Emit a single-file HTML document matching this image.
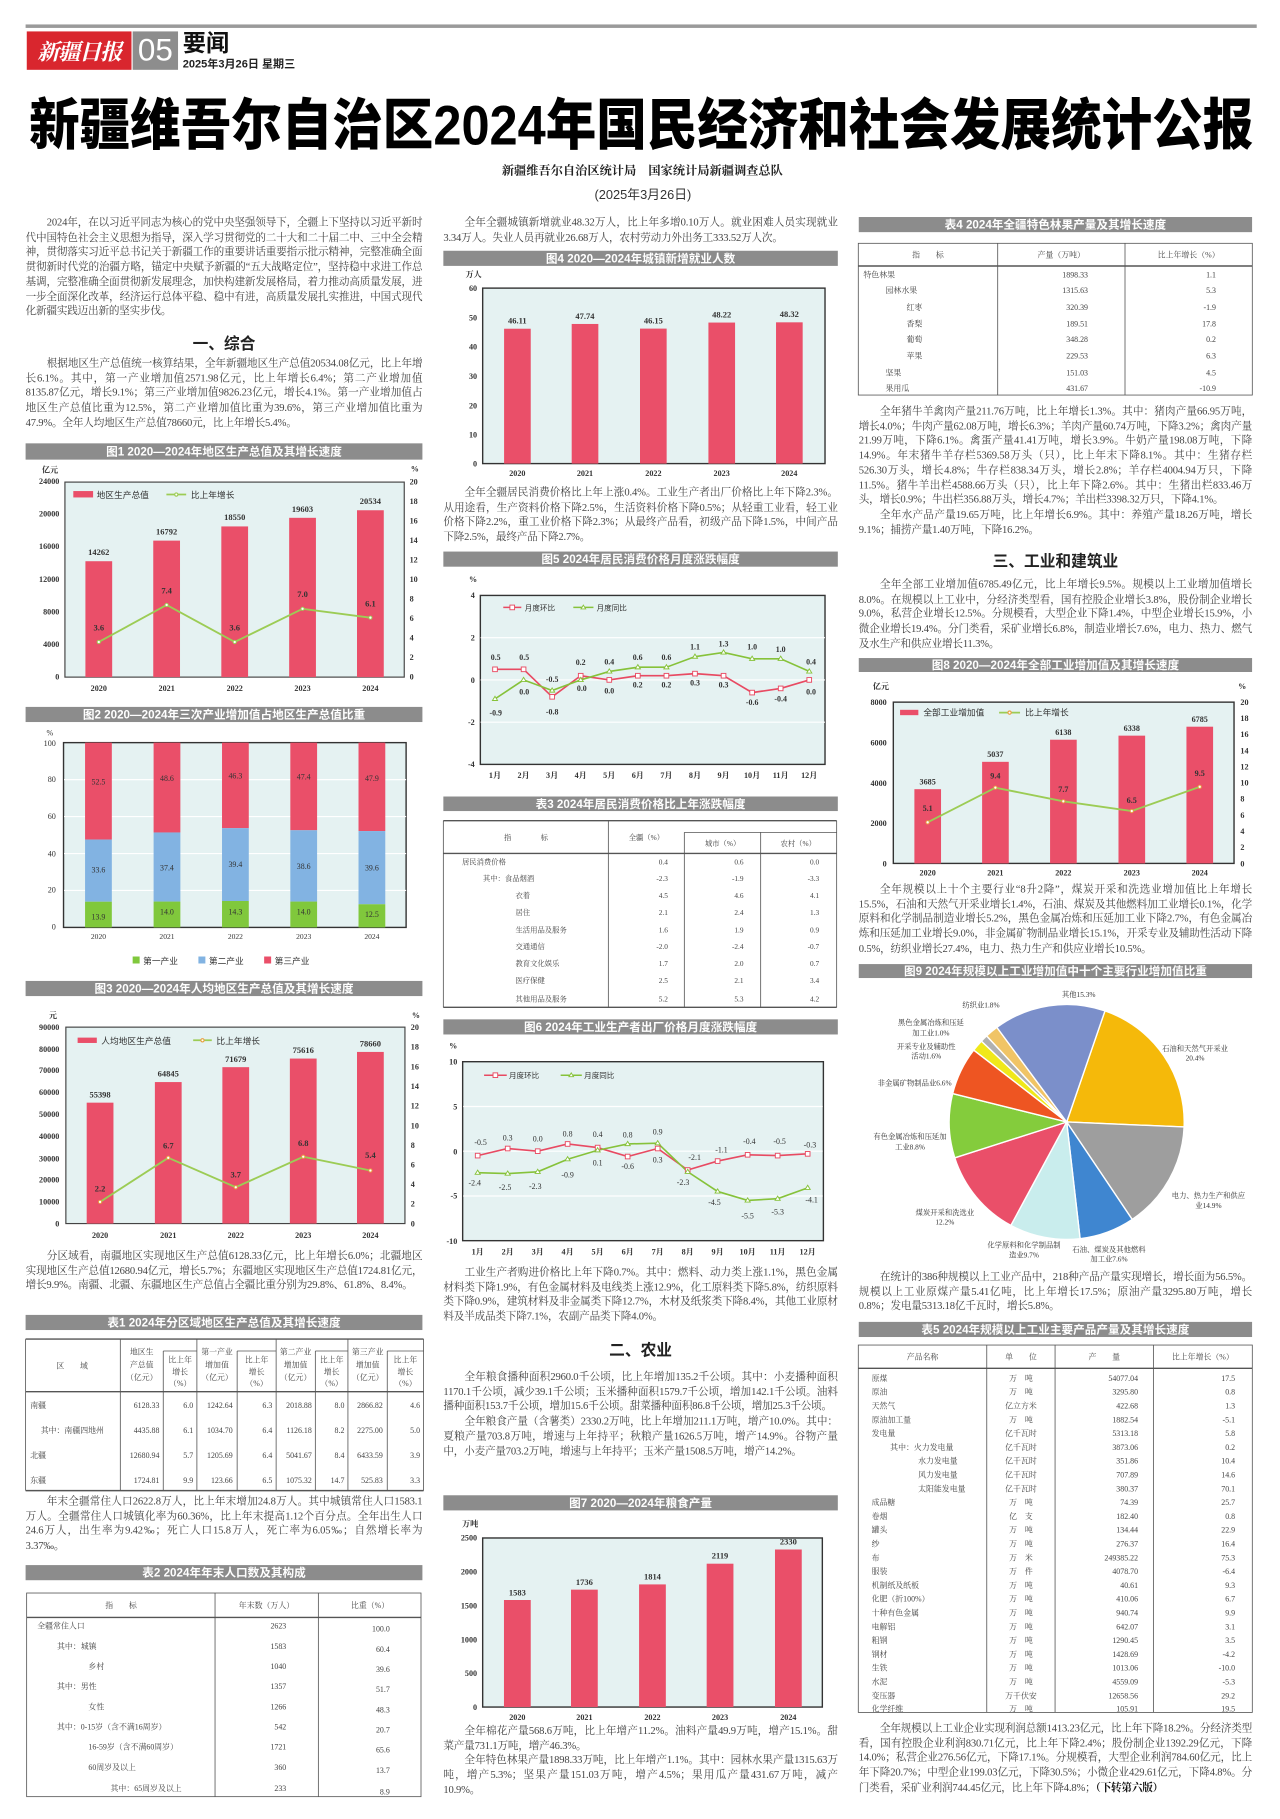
<!DOCTYPE html>
<html><head><meta charset="utf-8">
<style>
html,body{margin:0;padding:0;background:#fff;}
body{width:1280px;height:1819px;overflow:hidden;position:relative;}
#p{position:absolute;left:0;top:0;width:1100px;height:1563px;transform:scale(1.163636);transform-origin:0 0;font-family:"Liberation Sans","Noto Sans CJK SC",sans-serif;color:#3a3a3a;}
.t{position:absolute;font-size:9.1px;line-height:12.7px;letter-spacing:-0.15px;text-align:justify;overflow:hidden;font-family:"Liberation Serif","Noto Serif CJK SC","Noto Sans CJK SC",serif;color:#444;}
.t p{margin:0;text-indent:2em;}
.h{position:absolute;font-size:13.5px;font-weight:bold;text-align:center;color:#222;font-family:"Liberation Sans","Noto Sans CJK SC",sans-serif;}
svg text{font-family:"Liberation Serif","Noto Serif CJK SC","Noto Sans CJK SC",serif;}
.hd{fill:#8c8c8c;}
.ht{fill:#fff;font-size:10px;font-weight:bold;font-family:"Liberation Sans","Noto Sans CJK SC",sans-serif !important;}
.ax{font-size:7px;font-weight:bold;fill:#333;}
.v{font-size:7.3px;font-weight:bold;fill:#333;}
.lg{font-size:7.5px;fill:#333;font-family:"Liberation Sans","Noto Sans CJK SC",sans-serif !important;}
.tb{font-size:6.8px;fill:#444;font-family:"Liberation Sans","Noto Sans CJK SC",sans-serif !important;}
.pl{font-size:6.3px;fill:#333;font-family:"Liberation Serif","Noto Serif CJK SC",serif;}
</style></head><body><div id="p">

<!-- masthead -->
<div style="position:absolute;left:22px;top:21px;width:1058px;height:3px;background:#9a9a9a"></div>
<div style="position:absolute;left:23px;top:27px;width:90px;height:33px;background:#d9262e;color:#fff;font:italic bold 19px/33px 'Noto Serif CJK SC',serif;text-align:center;letter-spacing:-1px;overflow:hidden;white-space:nowrap">新疆日报</div>
<div style="position:absolute;left:114px;top:27px;width:39px;height:33px;background:#8d8d8d;color:#fff;font:27px/33px 'Liberation Sans',sans-serif;text-align:center">05</div>
<div style="position:absolute;left:157px;top:25px;font:bold 20px/22px 'Noto Sans CJK SC',sans-serif;color:#111">要闻</div>
<div style="position:absolute;left:157px;top:50px;font:bold 9.5px/11px 'Liberation Sans','Noto Sans CJK SC',sans-serif;color:#222">2025年3月26日 星期三</div>

<svg style="position:absolute;left:0;top:0" width="1100" height="140">
<text x="25" y="124" textLength="1052" lengthAdjust="spacingAndGlyphs" style="font-family:'Liberation Sans','Noto Sans CJK SC',sans-serif;font-size:48px;font-weight:900;fill:#000">新疆维吾尔自治区2024年国民经济和社会发展统计公报</text>
</svg>
<div style="position:absolute;left:400px;top:141px;width:304px;text-align:center;font:bold 10.5px/12px 'Noto Serif CJK SC',serif;color:#222">新疆维吾尔自治区统计局　国家统计局新疆调查总队</div>
<div style="position:absolute;left:480px;top:162px;width:145px;text-align:center;font:11px/12px 'Liberation Sans','Noto Sans CJK SC',sans-serif;color:#333">(2025年3月26日)</div>

<!-- column 1 text -->
<div class="t" style="left:22px;top:185px;width:341px;height:90px"><p>2024年，在以习近平同志为核心的党中央坚强领导下，全疆上下坚持以习近平新时代中国特色社会主义思想为指导，深入学习贯彻党的二十大和二十届二中、三中全会精神，贯彻落实习近平总书记关于新疆工作的重要讲话重要指示批示精神，完整准确全面贯彻新时代党的治疆方略，锚定中央赋予新疆的“五大战略定位”，坚持稳中求进工作总基调，完整准确全面贯彻新发展理念，加快构建新发展格局，着力推动高质量发展，进一步全面深化改革，经济运行总体平稳、稳中有进，高质量发展扎实推进，中国式现代化新疆实践迈出新的坚实步伐。</p></div>
<div class="h" style="left:22px;top:284px;width:341px">一、综合</div>
<div class="t" style="left:22px;top:306px;width:341px;height:77px"><p>根据地区生产总值统一核算结果，全年新疆地区生产总值20534.08亿元，比上年增长6.1%。其中，第一产业增加值2571.98亿元，比上年增长6.4%；第二产业增加值8135.87亿元，增长9.1%；第三产业增加值9826.23亿元，增长4.1%。第一产业增加值占地区生产总值比重为12.5%，第二产业增加值比重为39.6%，第三产业增加值比重为47.9%。全年人均地区生产总值78660元，比上年增长5.4%。</p></div>
<div class="t" style="left:22px;top:1073px;width:341px;height:52px"><p>分区域看，南疆地区实现地区生产总值6128.33亿元，比上年增长6.0%；北疆地区实现地区生产总值12680.94亿元，增长5.7%；东疆地区实现地区生产总值1724.81亿元，增长9.9%。南疆、北疆、东疆地区生产总值占全疆比重分别为29.8%、61.8%、8.4%。</p></div>
<div class="t" style="left:22px;top:1284px;width:341px;height:52px"><p>年末全疆常住人口2622.8万人，比上年末增加24.8万人。其中城镇常住人口1583.1万人。全疆常住人口城镇化率为60.36%，比上年末提高1.12个百分点。全年出生人口24.6万人，出生率为9.42‰；死亡人口15.8万人，死亡率为6.05‰；自然增长率为3.37‰。</p></div>

<!-- column 2 text -->
<div class="t" style="left:381px;top:185px;width:339px;height:26px"><p>全年全疆城镇新增就业48.32万人，比上年多增0.10万人。就业困难人员实现就业3.34万人。失业人员再就业26.68万人，农村劳动力外出务工333.52万人次。</p></div>
<div class="t" style="left:381px;top:417px;width:339px;height:52px"><p>全年全疆居民消费价格比上年上涨0.4%。工业生产者出厂价格比上年下降2.3%。从用途看，生产资料价格下降2.5%，生活资料价格下降0.5%；从轻重工业看，轻工业价格下降2.2%，重工业价格下降2.3%；从最终产品看，初级产品下降1.5%，中间产品下降2.5%，最终产品下降2.7%。</p></div>
<div class="t" style="left:381px;top:1087px;width:339px;height:52px"><p>工业生产者购进价格比上年下降0.7%。其中：燃料、动力类上涨1.1%，黑色金属材料类下降1.9%，有色金属材料及电线类上涨12.9%，化工原料类下降5.8%，纺织原料类下降0.9%，建筑材料及非金属类下降12.7%，木材及纸浆类下降8.4%，其他工业原材料及半成品类下降7.1%，农副产品类下降4.0%。</p></div>
<div class="h" style="left:381px;top:1149px;width:339px">二、农业</div>
<div class="t" style="left:381px;top:1177px;width:339px;height:103px"><p>全年粮食播种面积2960.0千公顷，比上年增加135.2千公顷。其中：小麦播种面积1170.1千公顷，减少39.1千公顷；玉米播种面积1579.7千公顷，增加142.1千公顷。油料播种面积153.7千公顷，增加15.6千公顷。甜菜播种面积86.8千公顷，增加25.3千公顷。</p><p>全年粮食产量（含薯类）2330.2万吨，比上年增加211.1万吨，增产10.0%。其中：夏粮产量703.8万吨，增速与上年持平；秋粮产量1626.5万吨，增产14.9%。谷物产量中，小麦产量703.2万吨，增速与上年持平；玉米产量1508.5万吨，增产14.2%。</p></div>
<div class="t" style="left:381px;top:1481px;width:339px;height:66px"><p>全年棉花产量568.6万吨，比上年增产11.2%。油料产量49.9万吨，增产15.1%。甜菜产量731.1万吨，增产46.3%。</p><p>全年特色林果产量1898.33万吨，比上年增产1.1%。其中：园林水果产量1315.63万吨，增产5.3%；坚果产量151.03万吨，增产4.5%；果用瓜产量431.67万吨，减产10.9%。</p></div>

<!-- column 3 text -->
<div class="t" style="left:738px;top:347px;width:338px;height:117px"><p>全年猪牛羊禽肉产量211.76万吨，比上年增长1.3%。其中：猪肉产量66.95万吨，增长4.0%；牛肉产量62.08万吨，增长6.3%；羊肉产量60.74万吨，下降3.2%；禽肉产量21.99万吨，下降6.1%。禽蛋产量41.41万吨，增长3.9%。牛奶产量198.08万吨，下降14.9%。年末猪牛羊存栏5369.58万头（只），比上年末下降8.1%。其中：生猪存栏526.30万头，增长4.8%；牛存栏838.34万头，增长2.8%；羊存栏4004.94万只，下降11.5%。猪牛羊出栏4588.66万头（只），比上年下降2.6%。其中：生猪出栏833.46万头，增长0.9%；牛出栏356.88万头，增长4.7%；羊出栏3398.32万只，下降4.1%。</p><p>全年水产品产量19.65万吨，比上年增长6.9%。其中：养殖产量18.26万吨，增长9.1%；捕捞产量1.40万吨，下降16.2%。</p></div>
<div class="h" style="left:738px;top:471px;width:338px">三、工业和建筑业</div>
<div class="t" style="left:738px;top:496px;width:338px;height:65px"><p>全年全部工业增加值6785.49亿元，比上年增长9.5%。规模以上工业增加值增长8.0%。在规模以上工业中，分经济类型看，国有控股企业增长3.8%，股份制企业增长9.0%，私营企业增长12.5%。分规模看，大型企业下降1.4%，中型企业增长15.9%，小微企业增长19.4%。分门类看，采矿业增长6.8%，制造业增长7.6%，电力、热力、燃气及水生产和供应业增长11.3%。</p></div>
<div class="t" style="left:738px;top:758px;width:338px;height:66px"><p>全年规模以上十个主要行业“8升2降”，煤炭开采和洗选业增加值比上年增长15.5%，石油和天然气开采业增长1.4%，石油、煤炭及其他燃料加工业增长0.1%，化学原料和化学制品制造业增长5.2%，黑色金属冶炼和压延加工业下降2.7%，有色金属冶炼和压延加工业增长9.0%，非金属矿物制品业增长15.1%，开采专业及辅助性活动下降0.5%，纺织业增长27.4%，电力、热力生产和供应业增长10.5%。</p></div>
<div class="t" style="left:738px;top:1091px;width:338px;height:39px"><p>在统计的386种规模以上工业产品中，218种产品产量实现增长，增长面为56.5%。规模以上工业原煤产量5.41亿吨，比上年增长17.5%；原油产量3295.80万吨，增长0.8%；发电量5313.18亿千瓦时，增长5.8%。</p></div>
<div class="t" style="left:738px;top:1479px;width:338px;height:70px"><p>全年规模以上工业企业实现利润总额1413.23亿元，比上年下降18.2%。分经济类型看，国有控股企业利润830.71亿元，比上年下降2.4%；股份制企业1392.29亿元，下降14.0%；私营企业276.56亿元，下降17.1%。分规模看，大型企业利润784.60亿元，比上年下降20.7%；中型企业199.03亿元，下降30.5%；小微企业429.61亿元，下降4.8%。分门类看，采矿业利润744.45亿元，比上年下降4.8%；<b style="color:#111">（下转第六版）</b></p></div>

<svg style="position:absolute;left:0;top:0" width="1100" height="1563">
<!-- headers -->
<g>
<rect class="hd" x="22" y="381" width="341" height="14"/><text class="ht" x="192.5" y="391.5" text-anchor="middle">图1  2020—2024年地区生产总值及其增长速度</text>
<rect class="hd" x="22" y="607.5" width="341" height="13"/><text class="ht" x="192.5" y="617.5" text-anchor="middle">图2  2020—2024年三次产业增加值占地区生产总值比重</text>
<rect class="hd" x="22" y="843" width="341" height="13"/><text class="ht" x="192.5" y="853" text-anchor="middle">图3  2020—2024年人均地区生产总值及其增长速度</text>
<rect class="hd" x="22" y="1130" width="341" height="13"/><text class="ht" x="192.5" y="1140" text-anchor="middle">表1  2024年分区域地区生产总值及其增长速度</text>
<rect class="hd" x="22" y="1345" width="341" height="13"/><text class="ht" x="192.5" y="1355" text-anchor="middle">表2  2024年年末人口数及其构成</text>
<rect class="hd" x="381" y="215.5" width="339" height="13"/><text class="ht" x="550.5" y="225.5" text-anchor="middle">图4  2020—2024年城镇新增就业人数</text>
<rect class="hd" x="381" y="474" width="339" height="13"/><text class="ht" x="550.5" y="484" text-anchor="middle">图5  2024年居民消费价格月度涨跌幅度</text>
<rect class="hd" x="381" y="684.5" width="339" height="12.5"/><text class="ht" x="550.5" y="694.5" text-anchor="middle">表3  2024年居民消费价格比上年涨跌幅度</text>
<rect class="hd" x="381" y="876" width="339" height="13"/><text class="ht" x="550.5" y="886" text-anchor="middle">图6  2024年工业生产者出厂价格月度涨跌幅度</text>
<rect class="hd" x="381" y="1285" width="339" height="13"/><text class="ht" x="550.5" y="1295" text-anchor="middle">图7  2020—2024年粮食产量</text>
<rect class="hd" x="738" y="186.5" width="338" height="13"/><text class="ht" x="907" y="196.5" text-anchor="middle">表4  2024年全疆特色林果产量及其增长速度</text>
<rect class="hd" x="738" y="565.5" width="338" height="12"/><text class="ht" x="907" y="575" text-anchor="middle">图8  2020—2024年全部工业增加值及其增长速度</text>
<rect class="hd" x="738" y="828.5" width="338" height="12"/><text class="ht" x="907" y="838" text-anchor="middle">图9  2024年规模以上工业增加值中十个主要行业增加值比重</text>
<rect class="hd" x="738" y="1136" width="338" height="13"/><text class="ht" x="907" y="1146" text-anchor="middle">表5  2024年规模以上工业主要产品产量及其增长速度</text>
</g>

<!-- FIG 1 -->
<g>
<rect x="55.8" y="414.3" width="291.6" height="167.6" fill="#e5f2f2" stroke="#444" stroke-width="1"/>
<text class="ax" x="36" y="406">亿元</text><text class="ax" x="353" y="405">%</text>
<g class="ax" text-anchor="end"><text x="51" y="584">0</text><text x="51" y="556">4000</text><text x="51" y="528">8000</text><text x="51" y="500">12000</text><text x="51" y="472">16000</text><text x="51" y="444">20000</text><text x="51" y="416">24000</text></g>
<g class="ax"><text x="352" y="584">0</text><text x="352" y="567.2">2</text><text x="352" y="550.5">4</text><text x="352" y="533.7">6</text><text x="352" y="517">8</text><text x="352" y="500.2">10</text><text x="352" y="483.4">12</text><text x="352" y="466.7">14</text><text x="352" y="449.9">16</text><text x="352" y="433.2">18</text><text x="352" y="416.4">20</text></g>
<g fill="#ea4f69"><rect x="73.4" y="482.3" width="23" height="99.6"/><rect x="131.7" y="464.6" width="23" height="117.3"/><rect x="190.2" y="452.4" width="23" height="129.5"/><rect x="248.5" y="445" width="23" height="136.9"/><rect x="306.8" y="438.5" width="23" height="143.4"/></g>
<g class="v" text-anchor="middle"><text x="84.9" y="477">14262</text><text x="143.2" y="459.5">16792</text><text x="201.7" y="447">18550</text><text x="260" y="440">19603</text><text x="318.3" y="433">20534</text>
<text x="84.9" y="542">3.6</text><text x="143.2" y="510">7.4</text><text x="201.7" y="542">3.6</text><text x="260" y="513">7.0</text><text x="318.3" y="521">6.1</text></g>
<polyline points="84.9,551.7 143.2,519.9 201.7,551.7 260,523.2 318.3,530.8" fill="none" stroke="#9ccc55" stroke-width="1.6"/>
<g fill="#fff" stroke="#9ccc55" stroke-width="0.8"><circle cx="84.9" cy="551.7" r="1.4"/><circle cx="143.2" cy="519.9" r="1.4"/><circle cx="201.7" cy="551.7" r="1.4"/><circle cx="260" cy="523.2" r="1.4"/><circle cx="318.3" cy="530.8" r="1.4"/></g>
<g class="ax" text-anchor="middle"><text x="84.9" y="594">2020</text><text x="143.2" y="594">2021</text><text x="201.7" y="594">2022</text><text x="260" y="594">2023</text><text x="318.3" y="594">2024</text></g>
<rect x="63" y="422" width="17" height="5.5" fill="#ea4f69"/><text class="lg" x="83" y="428">地区生产总值</text>
<line x1="143" y1="425" x2="160" y2="425" stroke="#9ccc55" stroke-width="1.5"/><circle cx="151.5" cy="425" r="1.4" fill="#fff" stroke="#9ccc55"/><text class="lg" x="164" y="428">比上年增长</text>
</g>

<!-- FIG 2 -->
<g>
<rect x="54.6" y="638.2" width="294.4" height="158.8" fill="#e5f2f2" stroke="#333" stroke-width="1.2"/>
<g stroke="#fff" stroke-width="1"><line x1="55" y1="765.2" x2="349" y2="765.2"/><line x1="55" y1="733.5" x2="349" y2="733.5"/><line x1="55" y1="701.7" x2="349" y2="701.7"/><line x1="55" y1="670" x2="349" y2="670"/></g>
<text class="ax" x="40" y="632" style="font-weight:normal">%</text>
<g class="ax" text-anchor="end" style="font-weight:normal"><text x="48" y="799">0</text><text x="48" y="767">20</text><text x="48" y="736">40</text><text x="48" y="704">60</text><text x="48" y="672">80</text><text x="48" y="641">100</text></g>
<g fill="#ea4f69"><rect x="73.1" y="638.2" width="23" height="83.3"/><rect x="132" y="638.2" width="23" height="77.2"/><rect x="190.8" y="638.2" width="23" height="73.5"/><rect x="249.5" y="638.2" width="23" height="75.3"/><rect x="308.1" y="638.2" width="23" height="76"/></g>
<g fill="#82b3e2"><rect x="73.1" y="721.5" width="23" height="53.4"/><rect x="132" y="715.4" width="23" height="59.4"/><rect x="190.8" y="711.7" width="23" height="62.6"/><rect x="249.5" y="713.5" width="23" height="61.3"/><rect x="308.1" y="714.2" width="23" height="62.9"/></g>
<g fill="#80c83c"><rect x="73.1" y="774.9" width="23" height="22.1"/><rect x="132" y="774.8" width="23" height="22.2"/><rect x="190.8" y="774.3" width="23" height="22.7"/><rect x="249.5" y="774.8" width="23" height="22.2"/><rect x="308.1" y="777.1" width="23" height="19.9"/></g>
<g class="v" text-anchor="middle" style="font-weight:normal;font-size:6.8px"><text x="84.6" y="674">52.5</text><text x="143.5" y="671">48.6</text><text x="202.3" y="669">46.3</text><text x="261" y="670">47.4</text><text x="319.6" y="671">47.9</text>
<text x="84.6" y="750">33.6</text><text x="143.5" y="748">37.4</text><text x="202.3" y="745">39.4</text><text x="261" y="747">38.6</text><text x="319.6" y="748">39.6</text>
<text x="84.6" y="790">13.9</text><text x="143.5" y="786">14.0</text><text x="202.3" y="786">14.3</text><text x="261" y="786">14.0</text><text x="319.6" y="788">12.5</text></g>
<g class="ax" text-anchor="middle" style="font-weight:normal;font-size:6.5px"><text x="84.6" y="807">2020</text><text x="143.5" y="807">2021</text><text x="202.3" y="807">2022</text><text x="261" y="807">2023</text><text x="319.6" y="807">2024</text></g>
<rect x="114" y="822" width="6" height="6" fill="#80c83c"/><text class="lg" x="123" y="828.5">第一产业</text>
<rect x="170.5" y="822" width="6" height="6" fill="#82b3e2"/><text class="lg" x="179.5" y="828.5">第二产业</text>
<rect x="227" y="822" width="6" height="6" fill="#ea4f69"/><text class="lg" x="236" y="828.5">第三产业</text>
</g>

<!-- FIG 3 -->
<g>
<rect x="56.6" y="882.7" width="291.4" height="168.8" fill="#e5f2f2" stroke="#444" stroke-width="1"/>
<text class="ax" x="42" y="875">元</text><text class="ax" x="354" y="875">%</text>
<g class="ax" text-anchor="end"><text x="51" y="1054">0</text><text x="51" y="1035">10000</text><text x="51" y="1016">20000</text><text x="51" y="998">30000</text><text x="51" y="979">40000</text><text x="51" y="960">50000</text><text x="51" y="941">60000</text><text x="51" y="922">70000</text><text x="51" y="904">80000</text><text x="51" y="885">90000</text></g>
<g class="ax"><text x="353" y="1054">0</text><text x="353" y="1037">2</text><text x="353" y="1020">4</text><text x="353" y="1003.5">6</text><text x="353" y="986.6">8</text><text x="353" y="969.7">10</text><text x="353" y="952.8">12</text><text x="353" y="936">14</text><text x="353" y="919">16</text><text x="353" y="902">18</text><text x="353" y="885">20</text></g>
<g fill="#ea4f69"><rect x="74.5" y="947.6" width="23" height="103.9"/><rect x="133.1" y="929.9" width="23" height="121.6"/><rect x="191.1" y="917.1" width="23" height="134.4"/><rect x="249.1" y="909.7" width="23" height="141.8"/><rect x="306.8" y="904" width="23" height="147.5"/></g>
<g class="v" text-anchor="middle"><text x="86" y="943">55398</text><text x="144.6" y="925">64845</text><text x="202.6" y="912.5">71679</text><text x="260.6" y="905">75616</text><text x="318.3" y="899.5">78660</text>
<text x="86" y="1024">2.2</text><text x="144.6" y="987">6.7</text><text x="202.6" y="1012">3.7</text><text x="260.6" y="985">6.8</text><text x="318.3" y="995">5.4</text></g>
<polyline points="86,1032.9 144.6,995 202.6,1020.3 260.6,994.1 318.3,1005.9" fill="none" stroke="#9ccc55" stroke-width="1.6"/>
<g fill="#fff" stroke="#e8a040" stroke-width="0.8"><circle cx="86" cy="1032.9" r="1.4"/><circle cx="144.6" cy="995" r="1.4"/><circle cx="202.6" cy="1020.3" r="1.4"/><circle cx="260.6" cy="994.1" r="1.4"/><circle cx="318.3" cy="1005.9" r="1.4"/></g>
<g class="ax" text-anchor="middle"><text x="86" y="1064">2020</text><text x="144.6" y="1064">2021</text><text x="202.6" y="1064">2022</text><text x="260.6" y="1064">2023</text><text x="318.3" y="1064">2024</text></g>
<rect x="66.7" y="891.7" width="16.5" height="4.6" fill="#ea4f69"/><text class="lg" x="87" y="897">人均地区生产总值</text>
<line x1="166" y1="894" x2="182" y2="894" stroke="#9ccc55" stroke-width="1.5"/><circle cx="174" cy="894" r="1.4" fill="#fff" stroke="#e8a040"/><text class="lg" x="186" y="897">比上年增长</text>
</g>

<!-- TABLE 1 -->
<g stroke="#555" stroke-width="0.7" fill="none">
<line x1="22" y1="1150.8" x2="364" y2="1150.8" stroke-width="1.2"/>
<line x1="22" y1="1196" x2="364" y2="1196" stroke-width="1.2"/>
<line x1="22" y1="1281" x2="364" y2="1281" stroke-width="1.2"/>
<line x1="22" y1="1150.8" x2="22" y2="1281"/><line x1="364" y1="1150.8" x2="364" y2="1281"/>
<line x1="103.4" y1="1150.8" x2="103.4" y2="1281"/><line x1="140.3" y1="1161" x2="140.3" y2="1281"/><line x1="169.2" y1="1150.8" x2="169.2" y2="1281"/><line x1="203.8" y1="1161" x2="203.8" y2="1281"/><line x1="237.3" y1="1150.8" x2="237.3" y2="1281"/><line x1="271" y1="1161" x2="271" y2="1281"/><line x1="299" y1="1150.8" x2="299" y2="1281"/><line x1="332.8" y1="1161" x2="332.8" y2="1281"/>
<line x1="140.3" y1="1161" x2="169.2" y2="1161"/><line x1="203.8" y1="1161" x2="237.3" y2="1161"/><line x1="271" y1="1161" x2="299" y2="1161"/><line x1="332.8" y1="1161" x2="364" y2="1161"/>
</g>
<g class="tb" text-anchor="middle">
<text x="62" y="1176">区　　域</text>
<text x="121.8" y="1164">地区生</text><text x="121.8" y="1175">产总值</text><text x="121.8" y="1186">（亿元）</text>
<text x="154.8" y="1171">比上年</text><text x="154.8" y="1181">增长</text><text x="154.8" y="1191">（%）</text>
<text x="186.5" y="1164">第一产业</text><text x="186.5" y="1175">增加值</text><text x="186.5" y="1186">（亿元）</text>
<text x="220.5" y="1171">比上年</text><text x="220.5" y="1181">增长</text><text x="220.5" y="1191">（%）</text>
<text x="254" y="1164">第二产业</text><text x="254" y="1175">增加值</text><text x="254" y="1186">（亿元）</text>
<text x="285" y="1171">比上年</text><text x="285" y="1181">增长</text><text x="285" y="1191">（%）</text>
<text x="316" y="1164">第三产业</text><text x="316" y="1175">增加值</text><text x="316" y="1186">（亿元）</text>
<text x="348.4" y="1171">比上年</text><text x="348.4" y="1181">增长</text><text x="348.4" y="1191">（%）</text>
</g>
<g class="tb"><text x="26" y="1210">南疆</text><text x="35" y="1231.5">其中：南疆四地州</text><text x="26" y="1253">北疆</text><text x="26" y="1274.5">东疆</text></g>
<g class="tb" text-anchor="end">
<text x="137" y="1210">6128.33</text><text x="166" y="1210">6.0</text><text x="200" y="1210">1242.64</text><text x="234" y="1210">6.3</text><text x="268" y="1210">2018.88</text><text x="296" y="1210">8.0</text><text x="329" y="1210">2866.82</text><text x="361" y="1210">4.6</text>
<text x="137" y="1231.5">4435.88</text><text x="166" y="1231.5">6.1</text><text x="200" y="1231.5">1034.70</text><text x="234" y="1231.5">6.4</text><text x="268" y="1231.5">1126.18</text><text x="296" y="1231.5">8.2</text><text x="329" y="1231.5">2275.00</text><text x="361" y="1231.5">5.0</text>
<text x="137" y="1253">12680.94</text><text x="166" y="1253">5.7</text><text x="200" y="1253">1205.69</text><text x="234" y="1253">6.4</text><text x="268" y="1253">5041.67</text><text x="296" y="1253">8.4</text><text x="329" y="1253">6433.59</text><text x="361" y="1253">3.9</text>
<text x="137" y="1274.5">1724.81</text><text x="166" y="1274.5">9.9</text><text x="200" y="1274.5">123.66</text><text x="234" y="1274.5">6.5</text><text x="268" y="1274.5">1075.32</text><text x="296" y="1274.5">14.7</text><text x="329" y="1274.5">525.83</text><text x="361" y="1274.5">3.3</text>
</g>

<!-- TABLE 2 -->
<g stroke="#555" stroke-width="0.7" fill="none">
<rect x="22.9" y="1369" width="338.9" height="175"/>
<line x1="22.9" y1="1390" x2="361.8" y2="1390" stroke-width="1.2"/>
<line x1="184.8" y1="1369" x2="184.8" y2="1544"/><line x1="273.6" y1="1369" x2="273.6" y2="1544"/>
</g>
<g class="tb" text-anchor="middle"><text x="104" y="1382">指　　标</text><text x="229" y="1382">年末数（万人）</text><text x="318" y="1382">比重（%）</text></g>
<g class="tb">
<text x="32" y="1399.5">全疆常住人口</text><text x="49" y="1417">其中：城镇</text><text x="76" y="1434.5">乡村</text><text x="49" y="1451.5">其中：男性</text><text x="76" y="1469">女性</text><text x="49" y="1486.5">其中：0-15岁（含不满16周岁）</text><text x="76" y="1503.5">16-59岁（含不满60周岁）</text><text x="76" y="1521">60周岁及以上</text><text x="95" y="1539">其中：65周岁及以上</text>
</g>
<g class="tb" text-anchor="end">
<text x="246" y="1399.5">2623</text><text x="246" y="1417">1583</text><text x="246" y="1434.5">1040</text><text x="246" y="1451.5">1357</text><text x="246" y="1469">1266</text><text x="246" y="1486.5">542</text><text x="246" y="1503.5">1721</text><text x="246" y="1521">360</text><text x="246" y="1539">233</text>
<text x="335" y="1402">100.0</text><text x="335" y="1419.5">60.4</text><text x="335" y="1437">39.6</text><text x="335" y="1454">51.7</text><text x="335" y="1471.5">48.3</text><text x="335" y="1489">20.7</text><text x="335" y="1506">65.6</text><text x="335" y="1523.5">13.7</text><text x="335" y="1542">8.9</text>
</g>

<!-- FIG 4 -->
<g>
<rect x="414.8" y="247.6" width="294.2" height="150.8" fill="#e5f2f2" stroke="#333" stroke-width="1.2"/>
<text class="ax" x="400" y="238">万人</text>
<g class="ax" text-anchor="end"><text x="410" y="401">0</text><text x="410" y="376">10</text><text x="410" y="351">20</text><text x="410" y="325.5">30</text><text x="410" y="300.4">40</text><text x="410" y="275.3">50</text><text x="410" y="250">60</text></g>
<g fill="#ea4f69"><rect x="433.2" y="282.5" width="22.9" height="115.9"/><rect x="491.3" y="278.4" width="22.9" height="120"/><rect x="550" y="282.4" width="22.9" height="116"/><rect x="608.8" y="277.2" width="22.9" height="121.2"/><rect x="666.9" y="277" width="22.9" height="121.4"/></g>
<g class="v" text-anchor="middle"><text x="444.6" y="278">46.11</text><text x="502.7" y="274">47.74</text><text x="561.5" y="278">46.15</text><text x="620.2" y="273">48.22</text><text x="678.3" y="272.5">48.32</text></g>
<g class="ax" text-anchor="middle"><text x="444.6" y="409">2020</text><text x="502.7" y="409">2021</text><text x="561.5" y="409">2022</text><text x="620.2" y="409">2023</text><text x="678.3" y="409">2024</text></g>
</g>

<!-- FIG 5 -->
<g>
<rect x="412.8" y="511.7" width="296.2" height="145.2" fill="#e5f2f2" stroke="#333" stroke-width="1.2"/>
<g stroke="#fff" stroke-width="1"><line x1="413" y1="548" x2="709" y2="548"/><line x1="413" y1="584.3" x2="709" y2="584.3"/><line x1="413" y1="620.6" x2="709" y2="620.6"/></g>
<text class="ax" x="403" y="500">%</text>
<g class="ax" text-anchor="end"><text x="408" y="514">4</text><text x="408" y="550.5">2</text><text x="408" y="587">0</text><text x="408" y="623">-2</text><text x="408" y="659">-4</text></g>
<polyline points="425.4,575.2 449.95,575.2 474.5,598.8 499.05,580.7 523.6,584.3 548.15,580.7 572.7,580.7 597.25,578.9 621.8,580.7 646.35,595.2 670.9,591.6 695.45,584.3" fill="none" stroke="#e84a62" stroke-width="1.4"/>
<polyline points="425.4,600.6 449.95,584.3 474.5,593.4 499.05,584.3 523.6,577 548.15,573.4 572.7,573.4 597.25,564.3 621.8,560.7 646.35,566.15 670.9,566.15 695.45,577" fill="none" stroke="#86c23a" stroke-width="1.4"/>
<g fill="#fff" stroke="#e84a62" stroke-width="0.8"><rect x="423.4" y="573.2" width="4" height="4"/><rect x="447.95" y="573.2" width="4" height="4"/><rect x="472.5" y="596.8" width="4" height="4"/><rect x="497.05" y="578.7" width="4" height="4"/><rect x="521.6" y="582.3" width="4" height="4"/><rect x="546.15" y="578.7" width="4" height="4"/><rect x="570.7" y="578.7" width="4" height="4"/><rect x="595.25" y="576.9" width="4" height="4"/><rect x="619.8" y="578.7" width="4" height="4"/><rect x="644.35" y="593.2" width="4" height="4"/><rect x="668.9" y="589.6" width="4" height="4"/><rect x="693.45" y="582.3" width="4" height="4"/></g>
<g fill="#fff" stroke="#86c23a" stroke-width="0.8"><path d="M425.4 598.4l2.2 3.6h-4.4z"/><path d="M449.95 582.1l2.2 3.6h-4.4z"/><path d="M474.5 591.2l2.2 3.6h-4.4z"/><path d="M499.05 582.1l2.2 3.6h-4.4z"/><path d="M523.6 574.8l2.2 3.6h-4.4z"/><path d="M548.15 571.2l2.2 3.6h-4.4z"/><path d="M572.7 571.2l2.2 3.6h-4.4z"/><path d="M597.25 562.1l2.2 3.6h-4.4z"/><path d="M621.8 558.5l2.2 3.6h-4.4z"/><path d="M646.35 563.9l2.2 3.6h-4.4z"/><path d="M670.9 563.9l2.2 3.6h-4.4z"/><path d="M695.45 574.8l2.2 3.6h-4.4z"/></g>
<g class="v" text-anchor="middle" style="font-size:6.8px">
<text x="426" y="567">0.5</text><text x="450.5" y="567">0.5</text><text x="474.5" y="586">-0.5</text><text x="499" y="571.5">0.2</text><text x="523.6" y="571">0.4</text><text x="548" y="567">0.6</text><text x="572.7" y="567">0.6</text><text x="597.3" y="558">1.1</text><text x="621.8" y="555.5">1.3</text><text x="646.4" y="558">1.0</text><text x="670.9" y="560.5">1.0</text><text x="697" y="571">0.4</text>
<text x="426" y="615">-0.9</text><text x="450.5" y="597">0.0</text><text x="474.5" y="614">-0.8</text><text x="500" y="594">0.0</text><text x="523.6" y="596">0.0</text><text x="548" y="591">0.2</text><text x="572.7" y="591">0.2</text><text x="597.3" y="589">0.3</text><text x="621.8" y="591">0.3</text><text x="646.4" y="606">-0.6</text><text x="670.9" y="603">-0.4</text><text x="697" y="597">0.0</text></g>
<g class="ax" text-anchor="middle"><text x="425.4" y="668.5">1月</text><text x="449.95" y="668.5">2月</text><text x="474.5" y="668.5">3月</text><text x="499.05" y="668.5">4月</text><text x="523.6" y="668.5">5月</text><text x="548.15" y="668.5">6月</text><text x="572.7" y="668.5">7月</text><text x="597.25" y="668.5">8月</text><text x="621.8" y="668.5">9月</text><text x="646.35" y="668.5">10月</text><text x="670.9" y="668.5">11月</text><text x="695.45" y="668.5">12月</text></g>
<line x1="432.5" y1="522" x2="448" y2="522" stroke="#e84a62" stroke-width="1.3"/><rect x="438.2" y="520" width="4" height="4" fill="#fff" stroke="#e84a62" stroke-width="0.8"/><text class="lg" x="451" y="524.5" style="font-size:6.5px">月度环比</text>
<line x1="492.7" y1="522" x2="510" y2="522" stroke="#86c23a" stroke-width="1.3"/><path d="M501.3 520l2 3.3h-4z" fill="#fff" stroke="#86c23a" stroke-width="0.8"/><text class="lg" x="512.7" y="524.5" style="font-size:6.5px">月度同比</text>
</g>

<!-- TABLE 3 -->
<g stroke="#555" stroke-width="0.7" fill="none">
<line x1="381" y1="705.3" x2="719" y2="705.3" stroke-width="1.2"/><line x1="381" y1="733.4" x2="719" y2="733.4" stroke-width="1.2"/><line x1="381" y1="865.7" x2="719" y2="865.7" stroke-width="1.2"/>
<line x1="381" y1="705.3" x2="381" y2="865.7"/><line x1="719" y1="705.3" x2="719" y2="865.7"/><line x1="522.8" y1="705.3" x2="522.8" y2="865.7"/><line x1="588.1" y1="715.3" x2="588.1" y2="865.7"/><line x1="653.7" y1="715.3" x2="653.7" y2="865.7"/><line x1="588.1" y1="715.3" x2="719" y2="715.3"/>
</g>
<g class="tb" text-anchor="middle" style="font-size:6.3px"><text x="452" y="722">指　　　　标</text><text x="555.5" y="722">全疆（%）</text><text x="621" y="727">城市（%）</text><text x="686" y="727">农村（%）</text></g>
<g class="tb" style="font-size:6.3px"><text x="397" y="743">居民消费价格</text><text x="415" y="757.3">其中：食品烟酒</text><text x="443" y="771.9">衣着</text><text x="443" y="786.5">居住</text><text x="443" y="801.2">生活用品及服务</text><text x="443" y="815.7">交通通信</text><text x="443" y="830.1">教育文化娱乐</text><text x="443" y="844.7">医疗保健</text><text x="443" y="860.5">其他用品及服务</text></g>
<g class="tb" text-anchor="end" style="font-size:6.3px">
<text x="574" y="743">0.4</text><text x="639" y="743">0.6</text><text x="704" y="743">0.0</text>
<text x="574" y="757.3">-2.3</text><text x="639" y="757.3">-1.9</text><text x="704" y="757.3">-3.3</text>
<text x="574" y="771.9">4.5</text><text x="639" y="771.9">4.6</text><text x="704" y="771.9">4.1</text>
<text x="574" y="786.5">2.1</text><text x="639" y="786.5">2.4</text><text x="704" y="786.5">1.3</text>
<text x="574" y="801.2">1.6</text><text x="639" y="801.2">1.9</text><text x="704" y="801.2">0.9</text>
<text x="574" y="815.7">-2.0</text><text x="639" y="815.7">-2.4</text><text x="704" y="815.7">-0.7</text>
<text x="574" y="830.1">1.7</text><text x="639" y="830.1">2.0</text><text x="704" y="830.1">0.7</text>
<text x="574" y="844.7">2.5</text><text x="639" y="844.7">2.1</text><text x="704" y="844.7">3.4</text>
<text x="574" y="860.5">5.2</text><text x="639" y="860.5">5.3</text><text x="704" y="860.5">4.2</text></g>

<!-- FIG 6 -->
<g>
<rect x="397.6" y="912.4" width="310" height="153.8" fill="#e5f2f2" stroke="#333" stroke-width="1.2"/>
<g stroke="#fff" stroke-width="1"><line x1="398" y1="950.9" x2="707" y2="950.9"/><line x1="398" y1="989.3" x2="707" y2="989.3"/><line x1="398" y1="1027.8" x2="707" y2="1027.8"/></g>
<text class="ax" x="386" y="901">%</text>
<g class="ax" text-anchor="end"><text x="393" y="915">10</text><text x="393" y="953.5">5</text><text x="393" y="992">0</text><text x="393" y="1030">-5</text><text x="393" y="1069">-10</text></g>
<polyline points="410.5,993.1 436.3,987 462.1,989.3 487.8,983.1 513.6,986.2 539.4,993.9 565.2,987 591,1005.5 616.7,997.8 642.5,992.4 668.3,993.1 694.1,991.6" fill="none" stroke="#e84a62" stroke-width="1.4"/>
<polyline points="410.5,1007.8 436.3,1008.5 462.1,1007 487.8,996.2 513.6,988.5 539.4,983.1 565.2,982.4 591,1007 616.7,1023.9 642.5,1031.6 668.3,1030.1 694.1,1020.8" fill="none" stroke="#86c23a" stroke-width="1.4"/>
<g fill="#fff" stroke="#e84a62" stroke-width="0.8"><rect x="408.5" y="991.1" width="4" height="4"/><rect x="434.3" y="985" width="4" height="4"/><rect x="460.1" y="987.3" width="4" height="4"/><rect x="485.8" y="981.1" width="4" height="4"/><rect x="511.6" y="984.2" width="4" height="4"/><rect x="537.4" y="991.9" width="4" height="4"/><rect x="563.2" y="985" width="4" height="4"/><rect x="589" y="1003.5" width="4" height="4"/><rect x="614.7" y="995.8" width="4" height="4"/><rect x="640.5" y="990.4" width="4" height="4"/><rect x="666.3" y="991.1" width="4" height="4"/><rect x="692.1" y="989.6" width="4" height="4"/></g>
<g fill="#fff" stroke="#86c23a" stroke-width="0.8"><path d="M410.5 1005.6l2.2 3.6h-4.4z"/><path d="M436.3 1006.3l2.2 3.6h-4.4z"/><path d="M462.1 1004.8l2.2 3.6h-4.4z"/><path d="M487.8 994l2.2 3.6h-4.4z"/><path d="M513.6 986.3l2.2 3.6h-4.4z"/><path d="M539.4 980.9l2.2 3.6h-4.4z"/><path d="M565.2 980.2l2.2 3.6h-4.4z"/><path d="M591 1004.8l2.2 3.6h-4.4z"/><path d="M616.7 1021.7l2.2 3.6h-4.4z"/><path d="M642.5 1029.4l2.2 3.6h-4.4z"/><path d="M668.3 1027.9l2.2 3.6h-4.4z"/><path d="M694.1 1018.6l2.2 3.6h-4.4z"/></g>
<g class="v" text-anchor="middle" style="font-size:6.8px;font-weight:normal">
<text x="413" y="984">-0.5</text><text x="436.3" y="980">0.3</text><text x="462.1" y="981">0.0</text><text x="487.8" y="976.5">0.8</text><text x="513.6" y="977">0.4</text><text x="539.4" y="977.5">0.8</text><text x="565.2" y="975">0.9</text><text x="597" y="997">-2.1</text><text x="620" y="990.5">-1.1</text><text x="644" y="983">-0.4</text><text x="670" y="983">-0.5</text><text x="696" y="986">-0.3</text>
<text x="513.6" y="1001.5">0.1</text><text x="539.4" y="1004.5">-0.6</text><text x="565.2" y="999">0.3</text>
<text x="408" y="1019">-2.4</text><text x="434" y="1022.5">-2.5</text><text x="460" y="1022">-2.3</text><text x="487.8" y="1012">-0.9</text><text x="587" y="1018.5">-2.3</text><text x="614" y="1035.5">-4.5</text><text x="642.5" y="1047">-5.5</text><text x="668.3" y="1043.5">-5.3</text><text x="697.5" y="1033.5">-4.1</text></g>
<g class="ax" text-anchor="middle"><text x="410.5" y="1078">1月</text><text x="436.3" y="1078">2月</text><text x="462.1" y="1078">3月</text><text x="487.8" y="1078">4月</text><text x="513.6" y="1078">5月</text><text x="539.4" y="1078">6月</text><text x="565.2" y="1078">7月</text><text x="591" y="1078">8月</text><text x="616.7" y="1078">9月</text><text x="642.5" y="1078">10月</text><text x="668.3" y="1078">11月</text><text x="694.1" y="1078">12月</text></g>
<line x1="416" y1="924" x2="435.5" y2="924" stroke="#e84a62" stroke-width="1.3"/><rect x="423.7" y="922" width="4" height="4" fill="#fff" stroke="#e84a62" stroke-width="0.8"/><text class="lg" x="437.4" y="926.5" style="font-size:6.5px">月度环比</text>
<line x1="481.8" y1="924" x2="500" y2="924" stroke="#86c23a" stroke-width="1.3"/><path d="M490.9 922l2 3.3h-4z" fill="#fff" stroke="#86c23a" stroke-width="0.8"/><text class="lg" x="502" y="926.5" style="font-size:6.5px">月度同比</text>
</g>

<!-- FIG 7 -->
<g>
<rect x="414.8" y="1321.7" width="291.9" height="145.3" fill="#e5f2f2" stroke="#333" stroke-width="1.2"/>
<text class="ax" x="397" y="1312">万吨</text>
<g class="ax" text-anchor="end"><text x="410" y="1469.5">0</text><text x="410" y="1440.5">500</text><text x="410" y="1411.5">1000</text><text x="410" y="1382.5">1500</text><text x="410" y="1353">2000</text><text x="410" y="1324">2500</text></g>
<g fill="#ea4f69"><rect x="433.1" y="1375" width="23" height="92"/><rect x="490.7" y="1366.1" width="23" height="100.9"/><rect x="549.2" y="1361.6" width="23" height="105.4"/><rect x="607.3" y="1343.8" width="23" height="123.2"/><rect x="666" y="1331.6" width="23" height="135.4"/></g>
<g class="v" text-anchor="middle"><text x="444.6" y="1371">1583</text><text x="502.2" y="1362">1736</text><text x="560.7" y="1357.5">1814</text><text x="618.8" y="1339.5">2119</text><text x="677.5" y="1327.5">2330</text></g>
<g class="ax" text-anchor="middle"><text x="444.6" y="1478">2020</text><text x="502.2" y="1478">2021</text><text x="560.7" y="1478">2022</text><text x="618.8" y="1478">2023</text><text x="677.5" y="1478">2024</text></g>
</g>

<!-- TABLE 4 -->
<g stroke="#555" stroke-width="0.7" fill="none">
<rect x="737.6" y="209.1" width="338.6" height="130.4"/>
<line x1="737.6" y1="228.6" x2="1076.2" y2="228.6" stroke-width="1.2"/>
<line x1="857.4" y1="209.1" x2="857.4" y2="339.5"/><line x1="966.8" y1="209.1" x2="966.8" y2="339.5"/>
</g>
<g class="tb" text-anchor="middle"><text x="797.5" y="221.5">指　　标</text><text x="912" y="221.5">产量（万吨）</text><text x="1021.5" y="221.5">比上年增长（%）</text></g>
<g class="tb"><text x="742" y="238.3">特色林果</text><text x="761" y="252">园林水果</text><text x="779" y="266.3">红枣</text><text x="779" y="280.4">香梨</text><text x="779" y="294.1">葡萄</text><text x="779" y="308.2">苹果</text><text x="761" y="322.5">坚果</text><text x="761" y="336.2">果用瓜</text></g>
<g class="tb" text-anchor="end">
<text x="935" y="238.3">1898.33</text><text x="935" y="252">1315.63</text><text x="935" y="266.3">320.39</text><text x="935" y="280.4">189.51</text><text x="935" y="294.1">348.28</text><text x="935" y="308.2">229.53</text><text x="935" y="322.5">151.03</text><text x="935" y="336.2">431.67</text>
<text x="1045" y="238.3">1.1</text><text x="1045" y="252">5.3</text><text x="1045" y="266.3">-1.9</text><text x="1045" y="280.4">17.8</text><text x="1045" y="294.1">0.2</text><text x="1045" y="308.2">6.3</text><text x="1045" y="322.5">4.5</text><text x="1045" y="336.2">-10.9</text></g>

<!-- FIG 8 -->
<g>
<rect x="767.7" y="603.4" width="292.8" height="138.6" fill="#e5f2f2" stroke="#333" stroke-width="1.2"/>
<text class="ax" x="750" y="592">亿元</text><text class="ax" x="1064" y="592">%</text>
<g class="ax" text-anchor="end"><text x="762" y="744.5">0</text><text x="762" y="710">2000</text><text x="762" y="675.3">4000</text><text x="762" y="640.6">6000</text><text x="762" y="606">8000</text></g>
<g class="ax"><text x="1066" y="744.5">0</text><text x="1066" y="730.6">2</text><text x="1066" y="716.8">4</text><text x="1066" y="702.9">6</text><text x="1066" y="689">8</text><text x="1066" y="675.2">10</text><text x="1066" y="661.3">12</text><text x="1066" y="647.4">14</text><text x="1066" y="633.5">16</text><text x="1066" y="619.7">18</text><text x="1066" y="605.8">20</text></g>
<g fill="#ea4f69"><rect x="785.8" y="678.2" width="22.9" height="63.8"/><rect x="844" y="654.7" width="22.9" height="87.3"/><rect x="902.4" y="635.7" width="22.9" height="106.3"/><rect x="961.2" y="632.2" width="22.9" height="109.8"/><rect x="1019.6" y="624.5" width="22.9" height="117.5"/></g>
<g class="v" text-anchor="middle" style="font-size:7px"><text x="797.2" y="674">3685</text><text x="855.4" y="650.5">5037</text><text x="913.8" y="631.5">6138</text><text x="972.6" y="628">6338</text><text x="1031" y="620.5">6785</text>
<text x="797.2" y="697">5.1</text><text x="855.4" y="669">9.4</text><text x="913.8" y="680.5">7.7</text><text x="972.6" y="690">6.5</text><text x="1031" y="667">9.5</text></g>
<polyline points="797.2,706.7 855.4,676.9 913.8,688.6 972.6,697 1031,676.2" fill="none" stroke="#9ccc55" stroke-width="1.6"/>
<g fill="#fff" stroke="#e8a040" stroke-width="0.8"><circle cx="797.2" cy="706.7" r="1.4"/><circle cx="855.4" cy="676.9" r="1.4"/><circle cx="913.8" cy="688.6" r="1.4"/><circle cx="972.6" cy="697" r="1.4"/><circle cx="1031" cy="676.2" r="1.4"/></g>
<g class="ax" text-anchor="middle"><text x="797.2" y="752.5">2020</text><text x="855.4" y="752.5">2021</text><text x="913.8" y="752.5">2022</text><text x="972.6" y="752.5">2023</text><text x="1031" y="752.5">2024</text></g>
<rect x="773.5" y="610" width="15.7" height="4.6" fill="#ea4f69"/><text class="lg" x="793.5" y="615">全部工业增加值</text>
<line x1="858.6" y1="612.4" x2="876.6" y2="612.4" stroke="#9ccc55" stroke-width="1.5"/><circle cx="867.6" cy="612.4" r="1.4" fill="#fff" stroke="#e8a040"/><text class="lg" x="881" y="615">比上年增长</text>
</g>

<!-- FIG 9 pie -->
<g stroke="#fff" stroke-width="1.2">
<path d="M916.7 964.2L949.6 868.7A101 101 0 0 1 1017.6 968.5Z" fill="#f5b90a"/>
<path d="M916.7 964.2L1017.6 968.5A101 101 0 0 1 973 1048Z" fill="#9e9e9e"/>
<path d="M916.7 964.2L973 1048A101 101 0 0 1 928.2 1064.5Z" fill="#3f86d0"/>
<path d="M916.7 964.2L928.2 1064.5A101 101 0 0 1 868.7 1053.1Z" fill="#c9eded"/>
<path d="M916.7 964.2L868.7 1053.1A101 101 0 0 1 820.5 995Z" fill="#ea4f69"/>
<path d="M916.7 964.2L820.5 995A101 101 0 0 1 818.7 939.8Z" fill="#84cc3c"/>
<path d="M916.7 964.2L818.7 939.8A101 101 0 0 1 836.8 902.4Z" fill="#ee5522"/>
<path d="M916.7 964.2L836.8 902.4A101 101 0 0 1 843.4 894.7Z" fill="#f0e81a"/>
<path d="M916.7 964.2L843.4 894.7A101 101 0 0 1 847.9 890.2Z" fill="#b0b0b0"/>
<path d="M916.7 964.2L847.9 890.2A101 101 0 0 1 856.7 882.9Z" fill="#f0c466"/>
<path d="M916.7 964.2L856.7 882.9A101 101 0 0 1 949.6 868.7Z" fill="#7b8fca"/>
</g>
<g class="pl" text-anchor="middle">
<text x="927" y="857">其他15.3%</text>
<text x="843" y="866">纺织业1.8%</text>
<text x="800" y="881">黑色金属冶炼和压延</text><text x="800" y="890">加工业1.0%</text>
<text x="796" y="901.5">开采专业及辅助性</text><text x="796" y="909.5">活动1.6%</text>
<text x="786" y="933">非金属矿物制品业6.6%</text>
<text x="782" y="979">有色金属冶炼和压延加</text><text x="782" y="988">工业8.8%</text>
<text x="812" y="1044">煤炭开采和洗选业</text><text x="812" y="1052.5">12.2%</text>
<text x="880" y="1072">化学原料和化学制品制</text><text x="880" y="1080.5">造业9.7%</text>
<text x="953" y="1076">石油、煤炭及其他燃料</text><text x="953" y="1084">加工业7.6%</text>
<text x="1038.5" y="1029.5">电力、热力生产和供应</text><text x="1038.5" y="1038">业14.9%</text>
<text x="1027" y="903">石油和天然气开采业</text><text x="1027" y="911.5">20.4%</text>
</g>

<!-- TABLE 5 -->
<g stroke="#555" stroke-width="0.7" fill="none">
<rect x="737.6" y="1155.9" width="338.6" height="315.7"/>
<line x1="737.6" y1="1175.9" x2="1076.2" y2="1175.9" stroke-width="1.2"/>
<line x1="848" y1="1155.9" x2="848" y2="1471.6"/><line x1="906.7" y1="1155.9" x2="906.7" y2="1471.6"/><line x1="991.2" y1="1155.9" x2="991.2" y2="1471.6"/>
</g>
<g class="tb" text-anchor="middle"><text x="792.8" y="1168.5">产品名称</text><text x="877.4" y="1168.5">单　　位</text><text x="949" y="1168.5">产　　量</text><text x="1033.7" y="1168.5">比上年增长（%）</text></g>
<g class="tb">
<text x="749" y="1186.7">原煤</text><text x="749" y="1198.6">原油</text><text x="749" y="1210.4">天然气</text><text x="749" y="1222.3">原油加工量</text><text x="749" y="1234.1">发电量</text><text x="765" y="1246">其中：火力发电量</text><text x="789" y="1257.9">水力发电量</text><text x="789" y="1269.7">风力发电量</text><text x="789" y="1281.6">太阳能发电量</text><text x="749" y="1293.4">成品糖</text><text x="749" y="1305.3">卷烟</text><text x="749" y="1317.2">罐头</text><text x="749" y="1329">纱</text><text x="749" y="1340.9">布</text><text x="749" y="1352.7">服装</text><text x="749" y="1364.6">机制纸及纸板</text><text x="749" y="1376.5">化肥（折100%）</text><text x="749" y="1388.3">十种有色金属</text><text x="749" y="1400.2">电解铝</text><text x="749" y="1412">粗钢</text><text x="749" y="1423.9">钢材</text><text x="749" y="1435.8">生铁</text><text x="749" y="1447.6">水泥</text><text x="749" y="1459.5">变压器</text><text x="749" y="1471">化学纤维</text>
</g>
<g class="tb" text-anchor="middle">
<text x="877.4" y="1186.7">万　吨</text><text x="877.4" y="1198.6">万　吨</text><text x="877.4" y="1210.4">亿立方米</text><text x="877.4" y="1222.3">万　吨</text><text x="877.4" y="1234.1">亿千瓦时</text><text x="877.4" y="1246">亿千瓦时</text><text x="877.4" y="1257.9">亿千瓦时</text><text x="877.4" y="1269.7">亿千瓦时</text><text x="877.4" y="1281.6">亿千瓦时</text><text x="877.4" y="1293.4">万　吨</text><text x="877.4" y="1305.3">亿　支</text><text x="877.4" y="1317.2">万　吨</text><text x="877.4" y="1329">万　吨</text><text x="877.4" y="1340.9">万　米</text><text x="877.4" y="1352.7">万　件</text><text x="877.4" y="1364.6">万　吨</text><text x="877.4" y="1376.5">万　吨</text><text x="877.4" y="1388.3">万　吨</text><text x="877.4" y="1400.2">万　吨</text><text x="877.4" y="1412">万　吨</text><text x="877.4" y="1423.9">万　吨</text><text x="877.4" y="1435.8">万　吨</text><text x="877.4" y="1447.6">万　吨</text><text x="877.4" y="1459.5">万千伏安</text><text x="877.4" y="1471">万　吨</text>
</g>
<g class="tb" text-anchor="end">
<text x="978" y="1186.7">54077.04</text><text x="978" y="1198.6">3295.80</text><text x="978" y="1210.4">422.68</text><text x="978" y="1222.3">1882.54</text><text x="978" y="1234.1">5313.18</text><text x="978" y="1246">3873.06</text><text x="978" y="1257.9">351.86</text><text x="978" y="1269.7">707.89</text><text x="978" y="1281.6">380.37</text><text x="978" y="1293.4">74.39</text><text x="978" y="1305.3">182.40</text><text x="978" y="1317.2">134.44</text><text x="978" y="1329">276.37</text><text x="978" y="1340.9">249385.22</text><text x="978" y="1352.7">4078.70</text><text x="978" y="1364.6">40.61</text><text x="978" y="1376.5">410.06</text><text x="978" y="1388.3">940.74</text><text x="978" y="1400.2">642.07</text><text x="978" y="1412">1290.45</text><text x="978" y="1423.9">1428.69</text><text x="978" y="1435.8">1013.06</text><text x="978" y="1447.6">4559.09</text><text x="978" y="1459.5">12658.56</text><text x="978" y="1471">105.91</text>
<text x="1061.4" y="1186.7">17.5</text><text x="1061.4" y="1198.6">0.8</text><text x="1061.4" y="1210.4">1.3</text><text x="1061.4" y="1222.3">-5.1</text><text x="1061.4" y="1234.1">5.8</text><text x="1061.4" y="1246">0.2</text><text x="1061.4" y="1257.9">10.4</text><text x="1061.4" y="1269.7">14.6</text><text x="1061.4" y="1281.6">70.1</text><text x="1061.4" y="1293.4">25.7</text><text x="1061.4" y="1305.3">0.8</text><text x="1061.4" y="1317.2">22.9</text><text x="1061.4" y="1329">16.4</text><text x="1061.4" y="1340.9">75.3</text><text x="1061.4" y="1352.7">-6.4</text><text x="1061.4" y="1364.6">9.3</text><text x="1061.4" y="1376.5">6.7</text><text x="1061.4" y="1388.3">9.9</text><text x="1061.4" y="1400.2">3.1</text><text x="1061.4" y="1412">3.5</text><text x="1061.4" y="1423.9">-4.2</text><text x="1061.4" y="1435.8">-10.0</text><text x="1061.4" y="1447.6">-5.3</text><text x="1061.4" y="1459.5">29.2</text><text x="1061.4" y="1471">19.5</text>
</g>
</svg>
</div></body></html>
